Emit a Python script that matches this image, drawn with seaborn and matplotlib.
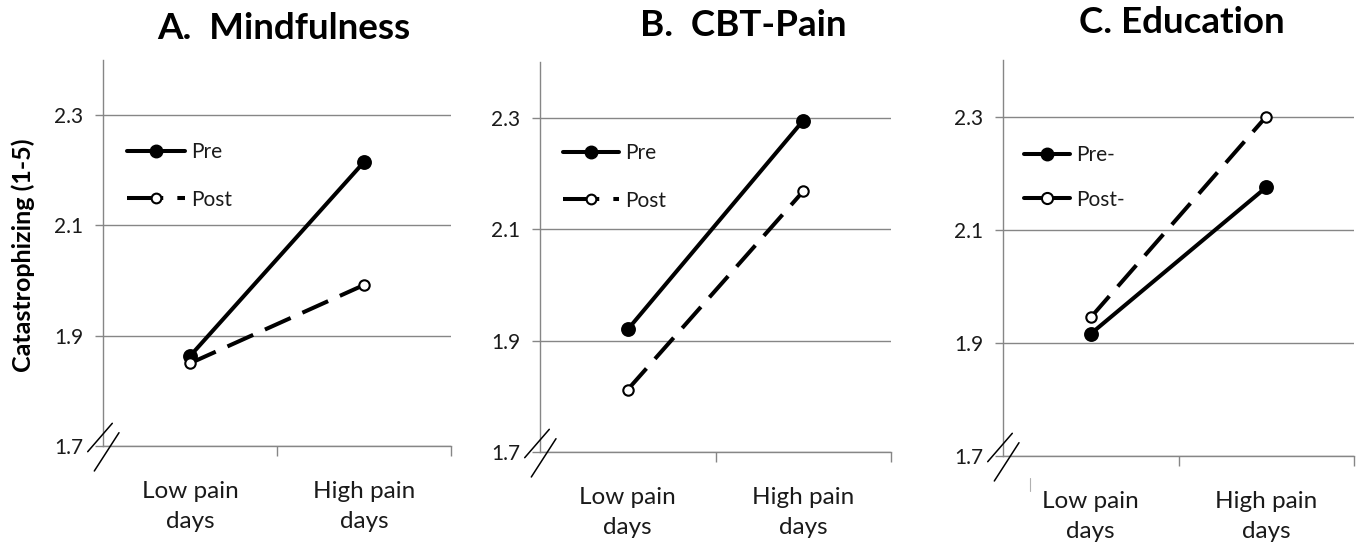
import matplotlib
matplotlib.use("Agg")
import matplotlib.pyplot as plt
from matplotlib.lines import Line2D
import seaborn as sns

# values
pain_levels = ["Low pain\ndays", "High pain\ndays"]
panel_titles = ["A.  Mindfulness", "B.  CBT-Pain", "C. Education"]
mindfulness_pre = [1.863, 2.215]
mindfulness_post = [1.850, 1.992]
cbt_pre = [1.920, 2.295]
cbt_post = [1.812, 2.168]
education_pre = [1.916, 2.175]
education_post = [1.945, 2.300]
legend_labels = [["Pre", "Post"], ["Pre", "Post"], ["Pre-", "Post-"]]
y_ticks = [1.7, 1.9, 2.1, 2.3]
y_label = "Catastrophizing (1-5)"

W, H = 1362, 542
GRID = "#868686"
LW = 2.9
DASH = (0, (7.0, 3.2))

sns.set_theme(style="white")
plt.rcParams["font.family"] = ["Lato", "DejaVu Sans"]

fig = plt.figure(figsize=(W / 100, H / 100), dpi=100)

# axes boxes in pixels: left, top, right, bottom
boxes = [(103, 60, 451, 446), (540, 62, 891, 452), (1003, 60, 1354, 456)]
series = [(mindfulness_pre, mindfulness_post),
          (cbt_pre, cbt_post),
          (education_pre, education_post)]
# legend: handle left x, row-centre y (pre, post), handle length
legend_pos = [(127, 152, 200, 2.8), (563, 153, 201, 2.7), (1024, 155, 200, 2.2)]
# title: x, baseline y, alignment
title_pos = [(284, 39, "center"), (640, 36, "left"), (1182, 33, "center")]


def px(x, y):
    return x / W, 1 - y / H


for i, ((l, t, r, b), (pre, post)) in enumerate(zip(boxes, series)):
    x0, y1 = px(l, t)
    x1, y0 = px(r, b)
    ax = fig.add_axes([x0, y0, x1 - x0, y1 - y0])

    sns.lineplot(x=pain_levels, y=pre, ax=ax, color="black", lw=LW,
                 marker="o", markersize=9.5, markerfacecolor="black",
                 markeredgecolor="black", markeredgewidth=1.2,
                 errorbar=None, legend=False)
    sns.lineplot(x=pain_levels, y=post, ax=ax, color="black", lw=LW,
                 linestyle=DASH, marker="o", markersize=7.5,
                 markerfacecolor="white", markeredgecolor="black",
                 markeredgewidth=1.5, errorbar=None, legend=False)

    ax.set_xlim(-0.5, 1.5)
    ax.set_ylim(1.7, 2.4)
    ax.set_yticks(y_ticks)
    ax.set_yticklabels([f"{v:.1f}" for v in y_ticks])
    ax.set_xticks([0, 1])
    ax.set_xticklabels(pain_levels)
    ax.set_xticks([0.5, 1.5], minor=True)
    ax.set_xlabel("")
    ax.set_ylabel("")

    ax.yaxis.grid(True, color=GRID, lw=1.0)
    ax.xaxis.grid(False)
    ax.set_axisbelow(True)
    for side in ["top", "right"]:
        ax.spines[side].set_visible(False)
    for side in ["left", "bottom"]:
        ax.spines[side].set_color(GRID)
        ax.spines[side].set_linewidth(1.0)

    ax.tick_params(axis="y", left=True, length=6, width=1.0, color=GRID,
                   pad=8, labelsize=15, labelcolor="#1a1a1a")
    ax.tick_params(axis="x", which="major", bottom=True, length=0, pad=25,
                   labelsize=17.5, labelcolor="#1a1a1a")
    ax.tick_params(axis="x", which="minor", bottom=True, length=7,
                   width=1.0, color=GRID)
    for lab in ax.get_xticklabels():
        lab.set_linespacing(1.55)

    # axis break marks
    for (ax_, ay_, bx_, by_) in [(-15.3, 5.7, 9.3, -22.7), (-8.7, 25, 16, -13.3)]:
        p1 = px(l + ax_, b + ay_)
        p2 = px(l + bx_, b + by_)
        fig.add_artist(Line2D([p1[0], p2[0]], [p1[1], p2[1]],
                              transform=fig.transFigure, color="black", lw=1.1))

    # legend
    hx, ypre, ypost, hlen = legend_pos[i]
    pre_handle = Line2D([], [], color="black", lw=LW, marker="o", markersize=9,
                        markerfacecolor="black", markeredgecolor="black")
    post_style = "-" if i == 2 else (0, (9, 3.5))
    post_handle = Line2D([], [], color="black", lw=LW, linestyle=post_style,
                         marker="o", markersize=8 if i == 2 else 7,
                         markerfacecolor="white", markeredgecolor="black",
                         markeredgewidth=1.5)
    fs = 15
    fs_px = fs * 100 / 72
    spacing = ((ypost - ypre) - fs_px) / fs_px
    cx, cy = px(hx, (ypre + ypost) / 2)
    ax.legend([pre_handle, post_handle], legend_labels[i], loc="center left",
              bbox_to_anchor=(cx, cy), bbox_transform=fig.transFigure,
              frameon=False, fontsize=fs, handlelength=hlen,
              handletextpad=0.3, labelspacing=spacing, borderpad=0,
              borderaxespad=0, labelcolor="#1a1a1a")

    tx, ty, ha = title_pos[i]
    tpx = px(tx, ty)
    fig.text(tpx[0], tpx[1], panel_titles[i], ha=ha, va="baseline",
             fontsize=26.5, fontweight="bold", color="black")

# stray mark under panel C
fig.add_artist(Line2D([1030 / W, 1030 / W], [1 - 478 / H, 1 - 491 / H],
                      transform=fig.transFigure, color="#b0b0b0", lw=0.8))

lx, ly = px(23, 255)
fig.text(lx, ly, y_label, rotation=90, ha="center", va="center",
         fontsize=18, fontweight="bold", color="black")

fig.savefig("out.png", dpi=100)
